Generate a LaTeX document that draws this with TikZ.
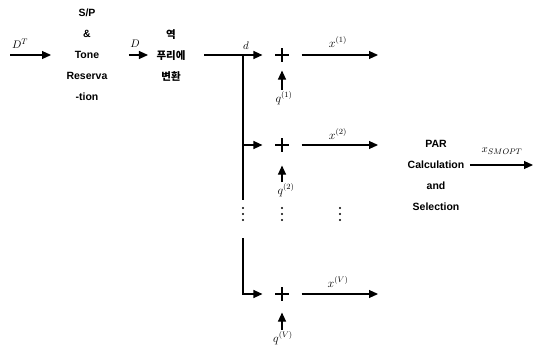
\documentclass[tikz,border=0pt]{standalone}
\usepackage{fontspec}
\setsansfont{Liberation Sans}
\newfontfamily\krfont{Noto Sans CJK KR}
\usetikzlibrary{arrows.meta}
\begin{document}
\begin{tikzpicture}[x=1pt,y=-1pt,line width=1.1pt,
  >={Triangle[length=9pt,width=8pt]},
  blk/.style={font=\sffamily\bfseries\fontsize{10.5}{21}\selectfont,align=center,inner sep=0pt},
  kblk/.style={font=\krfont\bfseries\fontsize{10.5}{21}\selectfont,align=center,inner sep=0pt},
  lbl/.style={font=\fontsize{11}{13}\selectfont,inner sep=1pt},
  slbl/.style={font=\fontsize{12}{14}\selectfont,inner sep=1pt},
  dot/.style={fill,circle,inner sep=0pt,minimum size=2.2pt},
  plus/.style={minimum size=14pt,inner sep=0pt,
    path picture={\draw[line width=1.1pt] (path picture bounding box.north) -- (path picture bounding box.south)
      (path picture bounding box.west) -- (path picture bounding box.east);}}]
\useasboundingbox (0,0) rectangle (541,348);
% input
\coordinate (in) at (10,55);
\node[lbl] (lDT) at (20,44) {$D^T$};
\node[blk] (b1) at (87,55) {S/P\\\&\\Tone\\Reserva\\-tion};
\draw[->,shorten >=15pt] (in) -- (b1.west);
\node[kblk] (b2) at (171,55) {역\\푸리에\\변환};
\node[lbl] (lD) at (135,44) {$D$};
\draw[->,shorten <=21pt,shorten >=8pt] (b1.east) -- (b2.west);
% adders
\node[plus] (p1) at (282,55) {};
\node[plus] (p2) at (282,145) {};
\node[plus] (pV) at (282,294) {};
\draw[->,shorten <=18pt,shorten >=12pt] (b2.east) -- (p1.west);
\node[lbl] (ld) at (246,46) {$d$};
\coordinate (j1) at (243,55);
\coordinate (jb) at (243,200);
\coordinate (jc) at (243,238);
\draw (j1) -- (jb);
\draw[->,shorten >=12pt] (j1 |- p2) -- (p2.west);
\draw[->,shorten >=12pt] (jc) |- (pV.west);
% q inputs
\node[slbl] (q1) at (284,98) {$q^{(1)}$};
\node[slbl] (q2) at (286,190) {$q^{(2)}$};
\node[slbl] (qV) at (283,338) {$q^{(V)}$};
\draw[->,shorten >=8pt] (p1.south |- q1.north) -- (p1.south);
\draw[->,shorten >=13pt] (p2.south |- q2.north) -- (p2.south);
\draw[->,shorten >=11pt] (pV.south |- qV.north) -- (pV.south);
% outputs
\coordinate (o1) at (378,55);
\coordinate (o2) at (378,145);
\coordinate (oV) at (378,294);
\draw[->,shorten <=12pt] (p1.east) -- (o1);
\draw[->,shorten <=12pt] (p2.east) -- (o2);
\draw[->,shorten <=12pt] (pV.east) -- (oV);
\node[slbl] (x1) at (338,42) {$x^{(1)}$};
\node[slbl] (x2) at (338,134) {$x^{(2)}$};
\node[slbl] (xV) at (338,282) {$x^{(V)}$};
% dots
\foreach \x/\n in {243/a,282/b,340/c}{
  \node[dot] (\n1) at (\x,208) {};
  \node[dot] (\n2) at (\x,214) {};
  \node[dot] (\n3) at (\x,220) {};
}
% PAR block
\node[blk] (par) at (436,175) {PAR\\Calculation\\and\\Selection};
\coordinate (out) at (533,165);
\draw[->,shorten <=5pt] ([yshift=10pt]par.east) -- (out);
\node[lbl] (xs) at (502,151) {$x_{SMOPT}$};
\end{tikzpicture}
\end{document}
